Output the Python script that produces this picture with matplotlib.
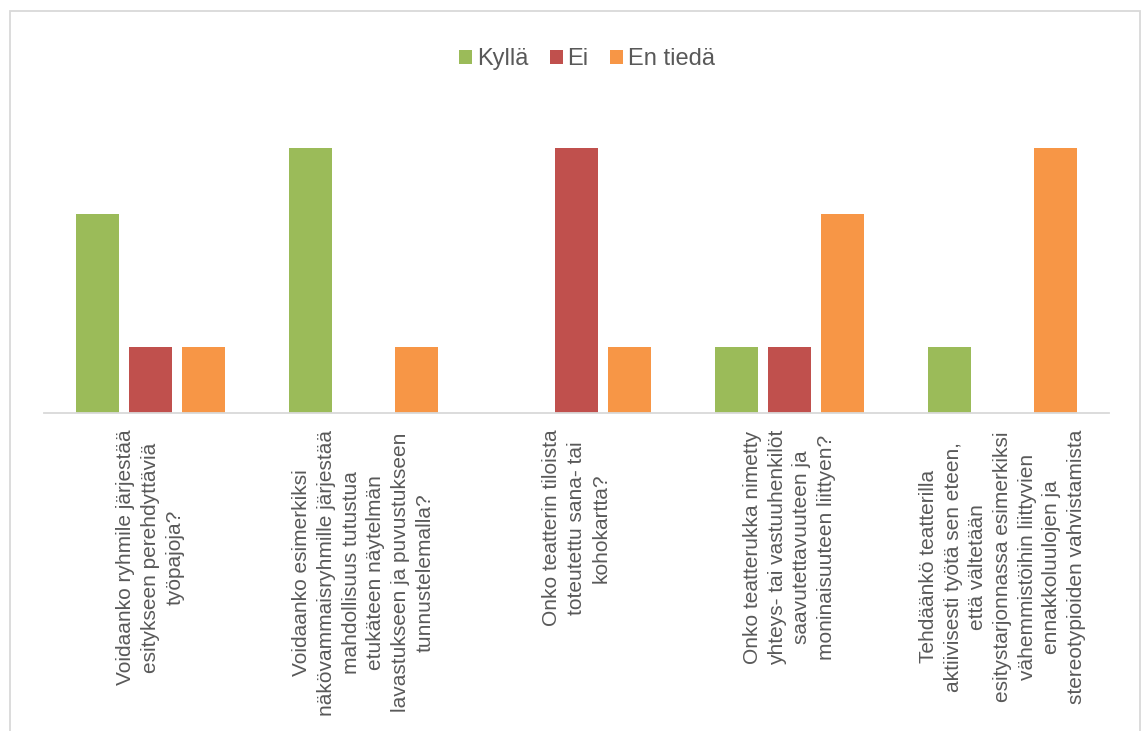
import numpy as np
import matplotlib.pyplot as plt
from matplotlib.patches import Patch, Rectangle

plt.rcParams['font.family'] = ['Liberation Sans', 'DejaVu Sans']

# Kysymykset (x-akselin nimikkeet)
questions = [
    "Voidaanko ryhmile järjestää\nesitykseen perehdyttäviä\ntyöpajoja?",
    "Voidaanko esimerkiksi\nnäkövammaisryhmille järjestää\nmahdollisuus tutustua\netukäteen näytelmän\nlavastukseen ja puvustukseen\ntunnustelemalla?",
    "Onko teatterin tiloista\ntoteutettu sana- tai\nkohokartta?",
    "Onko teatterukka nimetty\nyhteys- tai vastuuhenkilöt\nsaavutettavuuteen ja\nmoninaisuuteen liittyen?",
    "Tehdäänkö teatterilla\naktiivisesti työtä sen eteen,\nettä vältetään\nesitystarjonnassa esimerkiksi\nvähemmistöihin liittyvien\nennakkoluulojen ja\nstereotypioiden vahvistamista",
]
series_names = ["Kyllä", "Ei", "En tiedä"]
kylla = [3, 4, 0, 1, 1]
ei = [1, 0, 4, 1, 0]
en_tieda = [1, 1, 1, 3, 4]

colors = ['#9BBB59', '#C0504D', '#F79646']
text_color = '#595959'

fig = plt.figure(figsize=(11.44, 7.31), dpi=100)
ax = fig.add_axes([44 / 1144, 1 - 413 / 731, (1109 - 44) / 1144, (413 - 82) / 731])

x = np.arange(len(questions))
width = 0.2
offset = 0.25
for i, (vals, c) in enumerate(zip([kylla, ei, en_tieda], colors)):
    ax.bar(x + (i - 1) * offset, vals, width=width, color=c, zorder=2)

ax.set_xlim(-0.5, len(questions) - 0.5)
ax.set_ylim(0, 5)
ax.set_yticks([])
ax.set_xticks(x)
ax.set_xticklabels(questions, rotation=90, fontsize=15, color=text_color,
                   ha='center', va='top', multialignment='center')
for lbl in ax.get_xticklabels():
    lbl.set_linespacing(1.38)
ax.tick_params(axis='x', length=0, pad=12)
for s in ['top', 'left', 'right']:
    ax.spines[s].set_visible(False)
ax.spines['bottom'].set_color('#D9D9D9')
ax.spines['bottom'].set_linewidth(1.3)

handles = [Patch(facecolor=c, edgecolor='none') for c in colors]
fig.legend(handles, series_names, loc='center', bbox_to_anchor=(587 / 1144, 1 - 59 / 731),
           ncol=3, frameon=False, fontsize=17, labelcolor=text_color,
           handlelength=0.55, handleheight=0.55, handletextpad=0.2, columnspacing=0.9)

# chart area border
fig.patches.append(Rectangle((10 / 1144, -0.1), 1130 / 1144, 1.1 - 11 / 731,
                             transform=fig.transFigure, fill=False,
                             edgecolor='#D9D9D9', linewidth=1.3))

fig.savefig('out.png', dpi=100)
